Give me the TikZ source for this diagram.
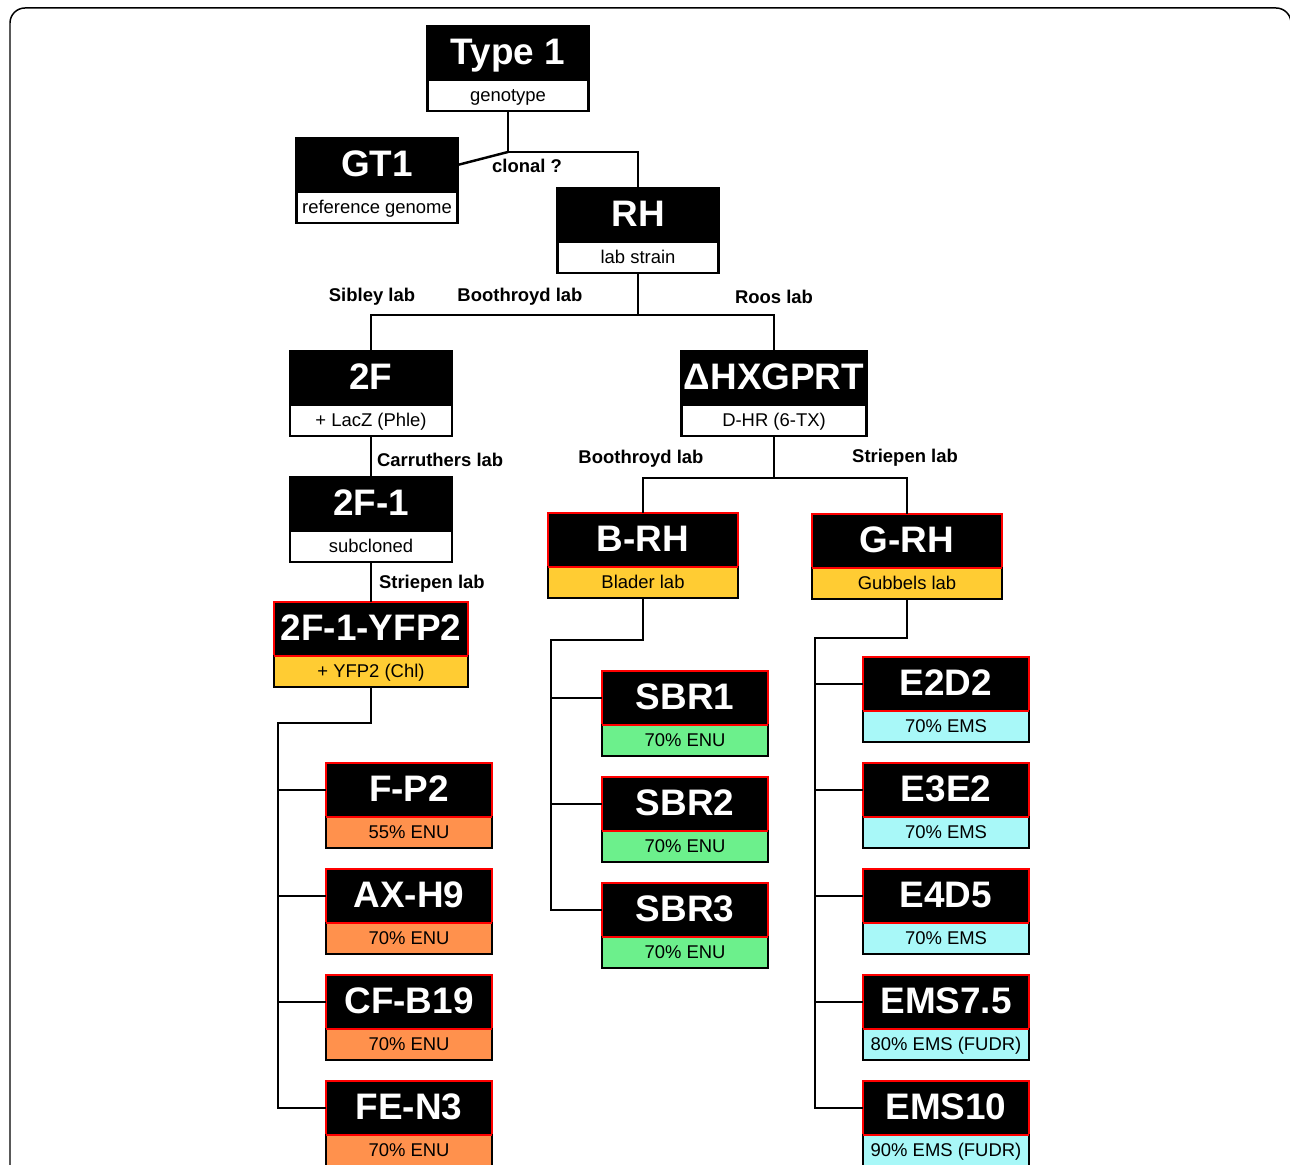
\documentclass[tikz,border=0pt]{standalone}
\usepackage{fontspec}
\setmainfont{Liberation Sans}
\usetikzlibrary{positioning}

\definecolor{labyellow}{RGB}{255,204,51}
\definecolor{enuorange}{RGB}{255,145,77}
\definecolor{enugreen}{RGB}{108,240,140}
\definecolor{emscyan}{RGB}{168,248,248}

\begin{document}
\begin{tikzpicture}[
    x=0.02cm, y=-0.02cm,
    every node/.style={font=\fontsize{10.5}{12}\selectfont},
    head/.style={draw, line width=1.4pt, fill=black, text=white, inner sep=0pt, outer sep=0pt,
                 minimum height=1.08cm, text height=15pt, text depth=2pt,
                 font=\fontsize{21}{24}\selectfont\bfseries},
    hl/.style={draw=red},
    sub/.style={draw, line width=1.4pt, fill=white, inner sep=0pt, outer sep=0pt,
                minimum height=0.62cm, text height=7.5pt, text depth=0.5pt},
    lab/.style={font=\fontsize{10.5}{12}\selectfont\bfseries, inner sep=1pt},
    link/.style={line width=1.4pt},
]
\useasboundingbox (0,0) rectangle (1290,1165);

% ── Frame ────────────────────────────────────────────────────────────────────
\begin{scope}
  \clip (0,0) rectangle (1290,1165);
  \draw[line width=0.85pt, rounded corners=0.3cm] (10,8) rectangle (1291,1200);
\end{scope}

% ── Top of the tree ──────────────────────────────────────────────────────────
\node[head, minimum width=3.22cm] (type1) at (508,53) {Type 1};
\node[sub, minimum width=3.22cm, below=0pt of type1] (type1-s) {genotype};
\node[head, minimum width=3.22cm] (gt1) at (377,165) {GT1};
\node[sub, minimum width=3.22cm, below=0pt of gt1] (gt1-s) {reference genome};
\node[head, minimum width=3.22cm] (rh) at (638,215) {RH};
\node[sub, minimum width=3.22cm, below=0pt of rh] (rh-s) {lab strain};

% ── Second level ─────────────────────────────────────────────────────────────
\node[head, minimum width=3.24cm] (f2) at (371,378) {2F};
\node[sub, minimum width=3.24cm, below=0pt of f2] (f2-s) {+ LacZ (Phle)};
\node[head, minimum width=3.7cm] (dhx) at (774,378) {ΔHXGPRT};
\node[sub, minimum width=3.7cm, below=0pt of dhx] (dhx-s) {D-HR (6-TX)};
\node[head, minimum width=3.24cm, below=0.82cm of f2-s] (f21) {2F-1};
\node[sub, minimum width=3.24cm, below=0pt of f21] (f21-s) {subcloned};
\node[head, hl, minimum width=3.88cm, below=0.8cm of f21-s] (yfp) {2F-1-YFP2};
\node[sub, fill=labyellow, minimum width=3.88cm, below=0pt of yfp] (yfp-s) {+ YFP2 (Chl)};
\node[head, hl, minimum width=3.8cm] (brh) at (643,540) {B-RH};
\node[sub, fill=labyellow, minimum width=3.8cm, below=0pt of brh] (brh-s) {Blader lab};
\node[head, hl, minimum width=3.8cm] (grh) at (907,541) {G-RH};
\node[sub, fill=labyellow, minimum width=3.8cm, below=0pt of grh] (grh-s) {Gubbels lab};

% ── Mutants (ENU) ────────────────────────────────────────────────────────────
\node[head, hl, minimum width=3.32cm] (fp2) at (409,790) {F-P2};
\node[sub, fill=enuorange, minimum width=3.32cm, below=0pt of fp2] (fp2-s) {55\% ENU};
\node[head, hl, minimum width=3.32cm, below=0.42cm of fp2-s] (axh9) {AX-H9};
\node[sub, fill=enuorange, minimum width=3.32cm, below=0pt of axh9] (axh9-s) {70\% ENU};
\node[head, hl, minimum width=3.32cm, below=0.42cm of axh9-s] (cfb19) {CF-B19};
\node[sub, fill=enuorange, minimum width=3.32cm, below=0pt of cfb19] (cfb19-s) {70\% ENU};
\node[head, hl, minimum width=3.32cm, below=0.42cm of cfb19-s] (fen3) {FE-N3};
\node[sub, fill=enuorange, minimum width=3.32cm, below=0pt of fen3] (fen3-s) {70\% ENU};

\node[head, hl, minimum width=3.32cm] (sbr1) at (685,698) {SBR1};
\node[sub, fill=enugreen, minimum width=3.32cm, below=0pt of sbr1] (sbr1-s) {70\% ENU};
\node[head, hl, minimum width=3.32cm, below=0.42cm of sbr1-s] (sbr2) {SBR2};
\node[sub, fill=enugreen, minimum width=3.32cm, below=0pt of sbr2] (sbr2-s) {70\% ENU};
\node[head, hl, minimum width=3.32cm, below=0.42cm of sbr2-s] (sbr3) {SBR3};
\node[sub, fill=enugreen, minimum width=3.32cm, below=0pt of sbr3] (sbr3-s) {70\% ENU};

% ── Mutants (EMS) ────────────────────────────────────────────────────────────
\node[head, hl, minimum width=3.32cm] (e2d2) at (946,684) {E2D2};
\node[sub, fill=emscyan, minimum width=3.32cm, below=0pt of e2d2] (e2d2-s) {70\% EMS};
\node[head, hl, minimum width=3.32cm, below=0.42cm of e2d2-s] (e3e2) {E3E2};
\node[sub, fill=emscyan, minimum width=3.32cm, below=0pt of e3e2] (e3e2-s) {70\% EMS};
\node[head, hl, minimum width=3.32cm, below=0.42cm of e3e2-s] (e4d5) {E4D5};
\node[sub, fill=emscyan, minimum width=3.32cm, below=0pt of e4d5] (e4d5-s) {70\% EMS};
\node[head, hl, minimum width=3.32cm, below=0.42cm of e4d5-s] (ems75) {EMS7.5};
\node[sub, fill=emscyan, minimum width=3.32cm, below=0pt of ems75] (ems75-s) {80\% EMS (FUDR)};
\node[head, hl, minimum width=3.32cm, below=0.42cm of ems75-s] (ems10) {EMS10};
\node[sub, fill=emscyan, minimum width=3.32cm, below=0pt of ems10] (ems10-s) {90\% EMS (FUDR)};

% red edge between name and note
\foreach \n in {yfp,brh,grh,fp2,axh9,cfb19,fen3,sbr1,sbr2,sbr3,e2d2,e3e2,e4d5,ems75,ems10}
  \draw[red, line width=1.4pt] (\n.south west) -- (\n.south east);

% ── Lines ────────────────────────────────────────────────────────────────────
\draw[link] (type1-s.south) -- ++(0,41) coordinate (forkT) -| (rh.north);
\draw[link] (forkT) -- (gt1.east);
\draw[link] (rh-s.south) -- ++(0,42) coordinate (forkRH) -| (f2.north);
\draw[link] (forkRH) -| (dhx.north);
\draw[link] (f2-s) -- (f21);
\draw[link] (f21-s) -- (yfp);
\draw[link] (dhx-s.south) -- ++(0,42) coordinate (forkD) -| (brh.north);
\draw[link] (forkD) -| (grh.north);

\coordinate (trunkY) at (278,723);
\draw[link] (yfp-s.south) |- (trunkY) |- (fen3.west);
\foreach \c in {fp2,axh9,cfb19} \draw[link] (trunkY |- \c.west) -- (\c.west);
\coordinate (trunkB) at (551,640);
\draw[link] (brh-s.south) |- (trunkB) |- (sbr3.west);
\foreach \c in {sbr1,sbr2} \draw[link] (trunkB |- \c.west) -- (\c.west);
\coordinate (trunkG) at (815,638);
\draw[link] (grh-s.south) |- (trunkG) |- (ems10.west);
\foreach \c in {e2d2,e3e2,e4d5,ems75} \draw[link] (trunkG |- \c.west) -- (\c.west);

% ── Labels ───────────────────────────────────────────────────────────────────
\node[lab] (l-clonal) at (527,166) {clonal ?};
\node[lab] (l-sibley) at (372,297) {Sibley lab};
\node[lab] (l-boot1) at (520,297) {Boothroyd lab};
\node[lab] (l-roos) at (774,297) {Roos lab};
\node[lab, anchor=west] (l-carr) at (375,460) {Carruthers lab};
\node[lab, anchor=west] (l-strie1) at (377,584) {Striepen lab};
\node[lab] (l-boot2) at (641,459) {Boothroyd lab};
\node[lab] (l-strie2) at (905,458) {Striepen lab};

\end{tikzpicture}
\end{document}
